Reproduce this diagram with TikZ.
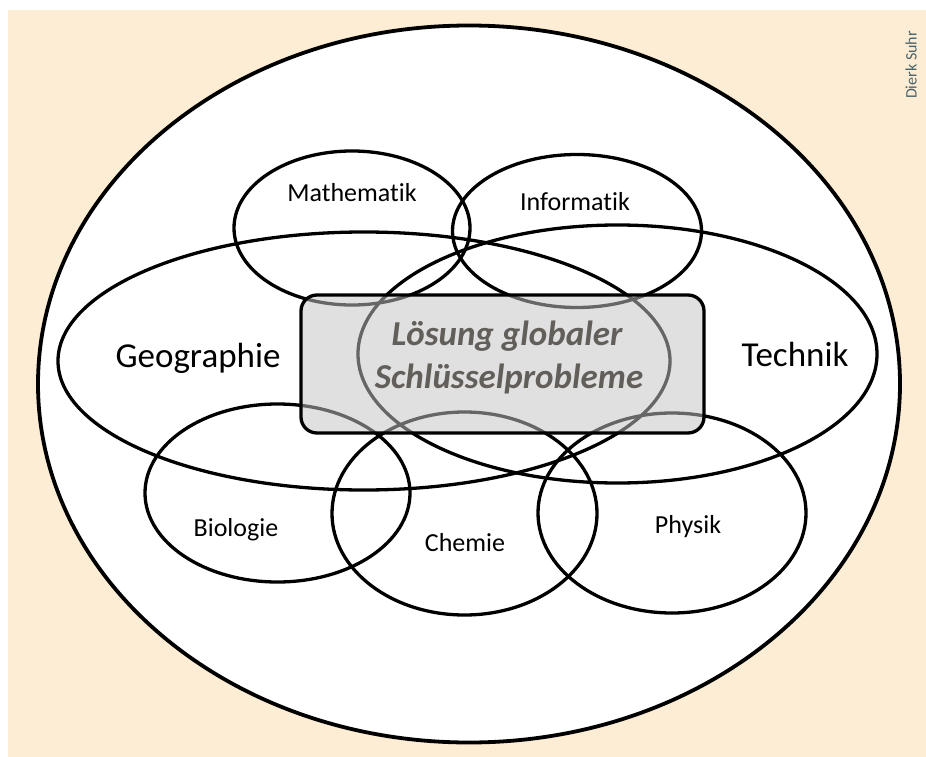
\documentclass[tikz,border=0pt]{standalone}
\usepackage{fontspec}
\setmainfont{Carlito}[Ligatures=CommonOff]
\usetikzlibrary{shapes.geometric}
\definecolor{bgcream}{RGB}{254,237,213}
\definecolor{boxgray}{RGB}{196,196,196}
\definecolor{maintext}{RGB}{98,94,90}
\definecolor{credit}{RGB}{72,98,106}
\begin{document}
\begin{tikzpicture}[x=1pt,y=-1pt,
  ell/.style={ellipse,draw=black,line width=3.3pt,inner sep=0pt,outer sep=0pt},
  lbl/.style={anchor=base,inner sep=0pt,font=\fontsize{26}{30}\selectfont},
  biglbl/.style={anchor=base,inner sep=0pt,font=\fontsize{35}{40}\selectfont},
  centerlbl/.style={anchor=base,inner sep=0pt,text=maintext,font=\fontsize{35}{40}\selectfont\bfseries\itshape}]
\useasboundingbox (0,0) rectangle (926,757);
\fill[white] (0,0) rectangle (926,757);
\fill[bgcream] (8,10) rectangle (926,757);
% outer ellipse
\node[ell,fill=white,line width=3.8pt,minimum width=862pt,minimum height=717pt] (outer) at (469,384) {};
% inner ellipses
\node[ell,minimum width=236pt,minimum height=154pt] (math) at (352,228) {};
\node[ell,minimum width=249pt,minimum height=153pt] (info) at (577,231) {};
\node[ell,minimum width=612pt,minimum height=258pt] (geo) at (364,361) {};
\node[ell,minimum width=519pt,minimum height=258pt] (tech) at (617.5,354) {};
\node[ell,minimum width=265pt,minimum height=178pt] (bio) at (277.5,493) {};
\node[ell,minimum width=265pt,minimum height=203pt] (chem) at (464.5,513.5) {};
\node[ell,minimum width=268pt,minimum height=200pt] (phys) at (672,513) {};
% central box
\fill[boxgray,fill opacity=0.52,rounded corners=16pt] (301,295) rectangle (704,433);
\draw[black,line width=3.3pt,rounded corners=16pt] (301,295) rectangle (704,433);
\coordinate (boxc) at (502.5,364);
% labels
\node[lbl] (tmath) at (352,201) {Mathematik};
\node[lbl] (tinfo) at (575,210) {Informatik};
\node[biglbl] (tgeo) at (198,367) {Geographie};
\node[biglbl] (ttech) at (795,366) {Technik};
\node[lbl] (tbio) at (236,536) {Biologie};
\node[lbl] (tchem) at (465,551) {Chemie};
\node[lbl] (tphys) at (688,533) {Physik};
\node[centerlbl] (tl1) at (507,345) {Lösung globaler};
\node[centerlbl] (tl2) at (509,388) {Schlüsselprobleme};
\node[rotate=90,text=credit,inner sep=0pt,font=\fontsize{16}{18}\selectfont] (credit) at (911,65) {Dierk Suhr};
\end{tikzpicture}
\end{document}
